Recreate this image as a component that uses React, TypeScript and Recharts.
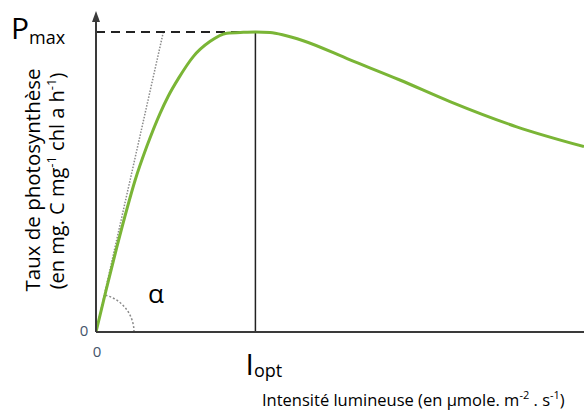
import React from "react";
import { LineChart, Line, XAxis, YAxis, ReferenceLine, Customized } from "recharts";

// Light intensity (arbitrary µmole units) and photosynthesis rate (% of Pmax)
const intensity = [0, 30, 64, 95, 120, 156, 197, 222, 255, 299, 350, 402, 453, 490, 535, 576, 637, 781, 934, 1088, 1293, 1500];
const rate = [0, 13.5, 28.3, 41, 50.5, 61.8, 72.9, 78.6, 84.8, 91.8, 96.8, 99.6, 99.9, 100, 99.8, 99, 97.1, 90.7, 84, 76.8, 68.4, 61.8];
const xTicks = [0];
const yTicks = [0];
const pMax = 100;
const iOpt = 490;
const alphaSlope = 100 / 207; // initial slope (tangent)

const data = intensity.map((x, i) => ({ x, y: rate[i] }));

const FONT = "'Open Sans', sans-serif";
const TICK_COLOR = "#44546a";
const AXIS_COLOR = "#3a3a3a";

const XTick = (props: any) => (
  <text x={props.x + 1} y={props.y} dy={17} textAnchor="middle" fontFamily={FONT} fontSize={15} fill={TICK_COLOR}>
    {props.payload.value}
  </text>
);
const YTick = (props: any) => (
  <text x={props.x - 4} y={props.y} dy={4} textAnchor="middle" fontFamily={FONT} fontSize={15} fill={TICK_COLOR}>
    {props.payload.value}
  </text>
);

const Decorations = () => (
  <g>
    {/* axis arrow */}
    <polygon points="96,11 92,22 100,22" fill={AXIS_COLOR} />
    {/* alpha arc */}
    <path d="M 134 332 A 38 38 0 0 0 104.2 294.9" fill="none" stroke="#8a8a8a" strokeWidth={1.5} strokeDasharray="2 2" />
    <text x={156} y={303} textAnchor="middle" fontFamily={FONT} fontSize={26} fill="#000">α</text>
    {/* Pmax */}
    <text x={11} y={39} fontFamily={FONT} fontSize={30} fill="#000">
      P<tspan fontSize={18} dy={5}>max</tspan>
    </text>
    {/* Iopt */}
    <text x={245.5} y={375} fontFamily={FONT} fontSize={30} fill="#000">
      I<tspan fontSize={18} dy={2}>opt</tspan>
    </text>
    {/* x label */}
    <text x={262} y={406} fontFamily={FONT} fontSize={16.5} fill="#000">
      Intensité lumineuse (en µmole. m<tspan fontSize={11} dy={-7}>-2</tspan>
      <tspan dy={7}> . s</tspan>
      <tspan fontSize={11} dy={-7}>-1</tspan>
      <tspan dy={7}>)</tspan>
    </text>
    {/* y label */}
    <g transform="translate(40,180) rotate(-90)">
      <text x={0} y={0} textAnchor="middle" fontFamily={FONT} fontSize={20.5} fill="#000">Taux de photosynthèse</text>
    </g>
    <g transform="translate(64,181) rotate(-90)">
      <text x={0} y={0} textAnchor="middle" fontFamily={FONT} fontSize={20} fill="#000">
        (en mg. C mg<tspan fontSize={13} dy={-8}>-1</tspan>
        <tspan dy={8}> chl a h</tspan>
        <tspan fontSize={13} dy={-8}>-1</tspan>
        <tspan dy={8}>)</tspan>
      </text>
    </g>
  </g>
);

export default function App() {
  return (
    <div style={{ position: "absolute", left: 0, top: 0, background: "#fff" }}>
      <LineChart width={584} height={412} data={data} margin={{ top: 14, right: 0, bottom: 50, left: 66 }}>
        <XAxis
          type="number"
          dataKey="x"
          domain={[0, 1500]}
          ticks={xTicks}
          height={30}
          tickLine={false}
          axisLine={{ stroke: AXIS_COLOR, strokeWidth: 2 }}
          tick={<XTick />}
          allowDataOverflow
        />
        <YAxis
          type="number"
          domain={[0, 106]}
          ticks={yTicks}
          width={30}
          tickLine={false}
          axisLine={{ stroke: AXIS_COLOR, strokeWidth: 2 }}
          tick={<YTick />}
          allowDataOverflow
        />
        <ReferenceLine
          segment={[{ x: 0, y: 0 }, { x: pMax / alphaSlope, y: pMax }]}
          stroke="#8a8a8a"
          strokeWidth={1.5}
          strokeDasharray="1.5 1.5"
        />
        <ReferenceLine
          segment={[{ x: 0, y: pMax }, { x: iOpt, y: pMax }]}
          stroke="#222"
          strokeWidth={2}
          strokeDasharray="9 6"
        />
        <ReferenceLine
          segment={[{ x: iOpt, y: 0 }, { x: iOpt, y: pMax }]}
          stroke="#222"
          strokeWidth={1.5}
        />
        <Line
          type="monotone"
          dataKey="y"
          stroke="#7ab536"
          strokeWidth={3}
          dot={false}
          isAnimationActive={false}
        />
        <Customized component={Decorations} />
      </LineChart>
    </div>
  );
}
